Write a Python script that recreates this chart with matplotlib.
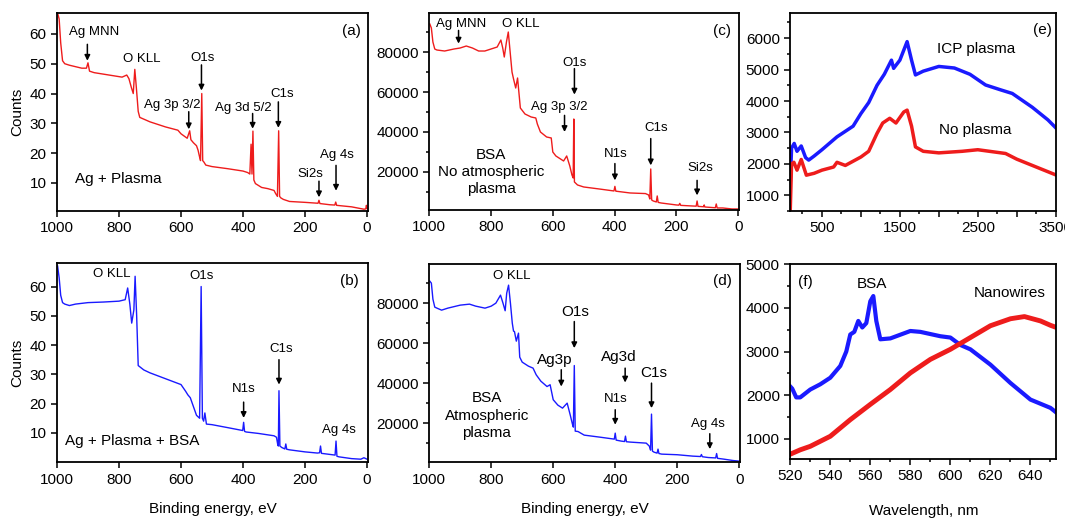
import matplotlib
matplotlib.use("Agg")
import matplotlib.pyplot as plt
from matplotlib.ticker import MultipleLocator, FuncFormatter

plt.rcParams['font.family'] = ['Liberation Sans', 'DejaVu Sans']
plt.rcParams['font.size'] = 11

# ---- (a) Ag + Plasma, XPS survey (binding energy, counts)
a_be = [998, 993, 988, 982, 975, 960, 940, 920, 905, 900,
        895, 880, 850, 820, 790, 775, 768, 760, 754, 749,
        744, 738, 733, 700, 650, 610, 600, 580, 572, 568,
        560, 550, 545, 540, 537, 533, 530, 526, 520, 500,
        450, 400, 385, 378, 374, 371, 368, 365, 360, 340,
        320, 300, 295, 289, 285, 282, 278, 270, 250, 200,
        158, 155, 152, 120, 104, 101, 98, 50, 10, 4,
        2, 0]
a_counts = [67, 65, 57, 51, 50, 49.5, 49, 48.5, 48.5, 50.3,
            47.5, 47, 46.5, 46, 45.5, 46.2, 45, 42, 40, 48.1,
            42, 34, 32, 30.5, 28.8, 27.7, 26.5, 25, 27.5, 24.5,
            23.5, 22.5, 21, 18.7, 17.5, 40, 17.5, 17, 16, 15.5,
            14.8, 14, 13.5, 13, 23, 13, 27.4, 11, 9.8, 8.5,
            8.1, 7.5, 6.5, 5.5, 27.5, 5.5, 5, 4.5, 3.8, 3.5,
            3.2, 4.2, 3.1, 2.7, 2.6, 3.6, 2.5, 2, 1.2, 1.3,
            2.5, 1.5]

# ---- (b) Ag + Plasma + BSA
b_be = [998, 993, 988, 982, 975, 960, 940, 900, 850, 800,
        780, 772, 765, 759, 752, 748, 743, 738, 720, 700,
        650, 600, 585, 578, 570, 560, 550, 540, 535, 531,
        527, 523, 518, 500, 450, 401, 398, 395, 390, 350,
        300, 292, 288, 286, 284, 281, 275, 265, 262, 259,
        250, 200, 160, 153, 150, 147, 110, 103, 100, 97,
        90, 50, 20, 10, 0]
b_counts = [67, 63, 57, 54.5, 54, 53.5, 54, 54.5, 54.7, 55,
            55.5, 59.5, 54, 47.5, 52, 63.5, 50, 33, 31.5, 30.5,
            28.5, 26.5, 24.2, 23, 22, 19, 16, 15, 60, 15,
            14, 16.8, 13, 12.8, 11.8, 10.8, 13.6, 10.5, 10.3, 9.8,
            9, 8.5, 6, 5.5, 24.4, 5.5, 5, 4.5, 6.2, 4.4,
            4.2, 3.5, 3.1, 3.2, 5.5, 3, 2.5, 2.4, 7.2, 2,
            1.8, 1.2, 1, 1.5, 1]

# ---- (c) BSA, no atmospheric plasma
c_be = [998, 993, 988, 982, 975, 950, 920, 900, 880, 860,
        840, 820, 800, 780, 768, 762, 757, 750, 744, 738,
        732, 727, 720, 714, 711, 705, 690, 670, 655, 650,
        640, 620, 605, 600, 590, 580, 565, 555, 545, 538,
        534, 532, 530, 520, 500, 450, 402, 399, 396, 350,
        300, 290, 286, 283, 280, 275, 265, 262, 259, 250,
        200, 192, 189, 186, 150, 136, 133, 130, 112, 110,
        108, 100, 74, 71, 68, 50, 20, 0]
c_counts = [94000, 92000, 85000, 81500, 81000, 80500, 81500, 82000, 83000, 82000,
            80500, 80500, 81500, 82500, 86000, 82000, 77500, 85000, 90000, 80000,
            70000, 66500, 62000, 67000, 62000, 52000, 49000, 47500, 47000, 44000,
            40000, 37500, 37000, 30000, 28000, 27000, 25500, 28000, 23000, 18500,
            17000, 46500, 15000, 13500, 12500, 11500, 10500, 12800, 10400, 9500,
            9200, 8500, 6500, 21500, 6000, 5500, 5000, 8000, 4800, 4500,
            3500, 3400, 4300, 3300, 3000, 2900, 5500, 2800, 2600, 3500,
            2500, 2400, 2100, 4000, 2000, 2000, 1500, 1500]

# ---- (d) BSA, atmospheric plasma
d_be = [998, 993, 988, 982, 975, 960, 940, 900, 870, 850,
        820, 800, 785, 770, 762, 755, 750, 744, 738, 732,
        728, 725, 719, 712, 708, 700, 680, 665, 655, 640,
        620, 610, 600, 585, 570, 555, 545, 538, 535, 532,
        529, 520, 500, 450, 403, 400, 397, 380, 370, 367,
        364, 350, 300, 290, 286, 283, 280, 275, 265, 262,
        259, 250, 200, 150, 125, 122, 119, 100, 76, 73,
        70, 50, 20, 0]
d_counts = [91000, 90000, 82000, 78000, 77500, 76500, 77500, 79000, 79500, 78500,
            77500, 78500, 80000, 84000, 80000, 76200, 85000, 89000, 80000, 70000,
            66000, 65800, 61000, 65000, 53000, 50500, 48500, 47500, 44200, 41000,
            38300, 39200, 31700, 29000, 27500, 30000, 24000, 19500, 18000, 48800,
            16000, 15800, 14000, 13000, 12000, 15000, 11500, 11000, 10800, 13500,
            10700, 10500, 10000, 8500, 6500, 24500, 6000, 5500, 5000, 7000,
            4800, 4500, 4200, 3500, 3300, 4300, 3200, 2800, 2600, 4800,
            2400, 2000, 1300, 1000]

# ---- (e) spectra, ICP plasma vs no plasma
e_wl_icp = [95, 110, 144, 180, 234, 290, 330, 400, 500, 693,
            900, 1000, 1100, 1207, 1300, 1392, 1420, 1500, 1593, 1650,
            1700, 1800, 2000, 2200, 2400, 2600, 2800, 2943, 3200, 3400,
            3500]
e_icp = [1500, 2500, 2650, 2400, 2570, 2200, 2120, 2250, 2450, 2860,
         3200, 3600, 3950, 4500, 4850, 5300, 5040, 5300, 5890, 5300,
         4830, 4950, 5100, 5050, 4850, 4510, 4350, 4240, 3800, 3400,
         3150]
e_wl_none = [93, 110, 140, 180, 234, 300, 400, 500, 650, 693,
             800, 1001, 1100, 1207, 1280, 1370, 1450, 1550, 1593, 1650,
             1700, 1800, 2000, 2300, 2500, 2857, 3000, 3200, 3500]
e_none = [500, 2000, 2050, 1800, 2140, 1640, 1700, 1800, 1900, 2050,
          1950, 2220, 2400, 2970, 3300, 3450, 3300, 3650, 3710, 3200,
          2540, 2400, 2350, 2400, 2450, 2330, 2150, 1950, 1650]

# ---- (f) spectra, BSA vs nanowires
f_wl_bsa = [520, 521, 523, 525, 530, 535, 540, 545, 548, 550,
            552, 554, 556, 558, 560, 561.5, 563, 565, 570, 580,
            585, 590, 595, 600, 605, 610, 620, 630, 640, 650,
            653]
f_bsa = [2200, 2150, 1950, 1950, 2130, 2250, 2400, 2670, 3000, 3390,
         3450, 3700, 3550, 3650, 4150, 4270, 3700, 3280, 3300, 3470,
         3450, 3400, 3350, 3320, 3150, 3050, 2700, 2280, 1900, 1710,
         1600]
f_wl_nw = [520, 525, 530, 540, 550, 560, 570, 580, 590, 600,
           610, 620, 630, 637, 645, 650, 653]
f_nw = [650, 750, 830, 1060, 1440, 1790, 2130, 2510, 2820, 3050,
        3320, 3590, 3750, 3800, 3700, 3600, 3550]

RED = '#ee1c1c'
BLUE = '#1a1aff'
ANN = 9.5


def style(ax):
    for s in ax.spines.values():
        s.set_linewidth(1.3)
    ax.tick_params(which='both', direction='out', top=False, right=False,
                   width=1.1, labelsize=11)
    ax.tick_params(which='major', length=4)
    ax.tick_params(which='minor', length=2.5)


def arrow(ax, x, y0, y1):
    ax.annotate('', xy=(x, y1), xytext=(x, y0),
                arrowprops=dict(arrowstyle='-|>', color='k', lw=1.1,
                                mutation_scale=8, shrinkA=0, shrinkB=0))


def label(ax, x, y, s, size=ANN, **kw):
    ax.text(x, y, s, fontsize=size, ha='center', va='center', **kw)


fig = plt.figure(figsize=(10.65, 5.21), dpi=100)
axa = fig.add_axes([0.0535, 0.595, 0.292, 0.380])
axb = fig.add_axes([0.0535, 0.113, 0.292, 0.382])
axc = fig.add_axes([0.403, 0.597, 0.291, 0.378])
axd = fig.add_axes([0.403, 0.113, 0.292, 0.380])
axe = fig.add_axes([0.742, 0.595, 0.250, 0.380])
axf = fig.add_axes([0.742, 0.119, 0.250, 0.374])

# (a)
axa.plot(a_be, a_counts, color=RED, lw=1)
axa.set_xlim(1000, -3)
axa.set_ylim(0.6, 67)
axa.set_yticks([10, 20, 30, 40, 50, 60])
axa.set_xticks([1000, 800, 600, 400, 200, 0])
axa.set_ylabel('Counts', fontsize=11)
label(axa, 880, 60.5, 'Ag MNN')
arrow(axa, 902, 56.5, 51)
label(axa, 727, 51.5, 'O KLL')
label(axa, 532, 52, 'O1s')
arrow(axa, 534, 49.6, 41)
label(axa, 629, 36, 'Ag 3p 3/2')
arrow(axa, 575, 33.9, 28)
label(axa, 398, 35.3, 'Ag 3d 5/2')
arrow(axa, 369, 33.3, 28.2)
label(axa, 273, 40, 'C1s')
arrow(axa, 286, 37.2, 28.5)
label(axa, 182, 13.1, 'Si2s')
arrow(axa, 155, 10.6, 5.2)
label(axa, 96, 19.3, 'Ag 4s')
arrow(axa, 100, 15.9, 7.4)
axa.text(941, 11.5, 'Ag + Plasma', fontsize=11, ha='left', va='center')
axa.text(21, 61, '(a)', fontsize=11, ha='right', va='center')

# (b)
axb.plot(b_be, b_counts, color=BLUE, lw=1)
axb.set_xlim(1000, -3)
axb.set_ylim(0, 68)
axb.set_yticks([10, 20, 30, 40, 50, 60])
axb.set_xticks([1000, 800, 600, 400, 200, 0])
axb.set_ylabel('Counts', fontsize=11)
axb.set_xlabel('Binding energy, eV', fontsize=11, labelpad=11)
label(axb, 823, 64.3, 'O KLL')
label(axb, 533, 63.6, 'O1s')
label(axb, 398, 25, 'N1s')
arrow(axb, 398, 20.5, 15.1)
label(axb, 276, 38.6, 'C1s')
arrow(axb, 284, 35, 26.5)
label(axb, 91, 11.1, 'Ag 4s')
axb.text(973, 7.2, 'Ag + Plasma + BSA', fontsize=11, ha='left', va='center')
axb.text(28, 62, '(b)', fontsize=11, ha='right', va='center')

# (c)
axc.plot(c_be, c_counts, color=RED, lw=1)
axc.set_xlim(1000, -3)
axc.set_ylim(1000, 99500)
axc.set_yticks([20000, 40000, 60000, 80000])
axc.yaxis.set_minor_locator(MultipleLocator(10000))
axc.set_xticks([1000, 800, 600, 400, 200, 0])
label(axc, 897, 94200, 'Ag MNN')
arrow(axc, 905, 90800, 84200)
label(axc, 703, 94100, 'O KLL')
label(axc, 530, 74500, 'O1s')
arrow(axc, 530, 71700, 58700)
label(axc, 578, 52500, 'Ag 3p 3/2')
arrow(axc, 562, 48300, 40000)
label(axc, 395, 28800, 'N1s')
arrow(axc, 399, 24200, 15800)
label(axc, 265, 42000, 'C1s')
arrow(axc, 283, 36700, 23300)
label(axc, 124, 22200, 'Si2s')
arrow(axc, 133, 15800, 8300)
label(axc, 800, 20000, 'BSA\nNo atmospheric\nplasma', size=11, linespacing=1.3)
axc.text(22, 90500, '(c)', fontsize=11, ha='right', va='center')

# (d)
axd.plot(d_be, d_counts, color=BLUE, lw=1)
axd.set_xlim(1000, -3)
axd.set_ylim(500, 99500)
axd.set_yticks([20000, 40000, 60000, 80000])
axd.yaxis.set_minor_locator(MultipleLocator(10000))
axd.set_xticks([1000, 800, 600, 400, 200, 0])
axd.set_xlabel('Binding energy, eV', fontsize=11, labelpad=11)
label(axd, 734, 93700, 'O KLL')
label(axd, 530, 75800, 'O1s', size=11)
arrow(axd, 532, 70800, 57500)
label(axd, 596, 51700, 'Ag3p', size=11)
arrow(axd, 574, 46700, 38300)
label(axd, 388, 53000, 'Ag3d', size=11)
arrow(axd, 368, 47500, 40300)
label(axd, 275, 45000, 'C1s', size=11)
arrow(axd, 283, 40000, 27500)
label(axd, 398, 32000, 'N1s')
arrow(axd, 400, 26700, 19200)
label(axd, 100, 19700, 'Ag 4s')
arrow(axd, 95, 14700, 7000)
label(axd, 814, 23800, 'BSA\nAtmospheric\nplasma', size=11, linespacing=1.3)
axd.text(25, 91000, '(d)', fontsize=11, ha='right', va='center')

# (e)
axe.plot(e_wl_icp, e_icp, color=BLUE, lw=2.5)
axe.plot(e_wl_none, e_none, color=RED, lw=2.5)
axe.set_xlim(93, 3510)
axe.set_ylim(500, 6800)
axe.set_xticks([500, 1000, 1500, 2000, 2500, 3000, 3500])
axe.xaxis.set_major_formatter(FuncFormatter(lambda v, p: '' if int(v) % 1000 == 0 else '%d' % v))
axe.xaxis.set_minor_locator(MultipleLocator(250))
axe.set_yticks([1000, 2000, 3000, 4000, 5000, 6000])
axe.yaxis.set_minor_locator(MultipleLocator(500))
label(axe, 2480, 5650, 'ICP plasma', size=11)
label(axe, 2470, 3070, 'No plasma', size=11)
axe.text(3457, 6270, '(e)', fontsize=11, ha='right', va='center')

# (f)
axf.plot(f_wl_bsa, f_bsa, color=BLUE, lw=3)
axf.plot(f_wl_nw, f_nw, color=RED, lw=3.5)
axf.set_xlim(520, 653)
axf.set_ylim(540, 5000)
axf.set_xticks([520, 540, 560, 580, 600, 620, 640])
axf.xaxis.set_minor_locator(MultipleLocator(10))
axf.set_yticks([1000, 2000, 3000, 4000, 5000])
axf.yaxis.set_minor_locator(MultipleLocator(500))
axf.set_xlabel('Wavelength, nm', fontsize=11, labelpad=15)
axf.text(524, 4580, '(f)', fontsize=11, ha='left', va='center')
label(axf, 561, 4540, 'BSA', size=11)
label(axf, 629.4, 4330, 'Nanowires', size=11)

for ax in (axa, axb, axc, axd, axe, axf):
    style(ax)

fig.savefig('out.png', dpi=100)
